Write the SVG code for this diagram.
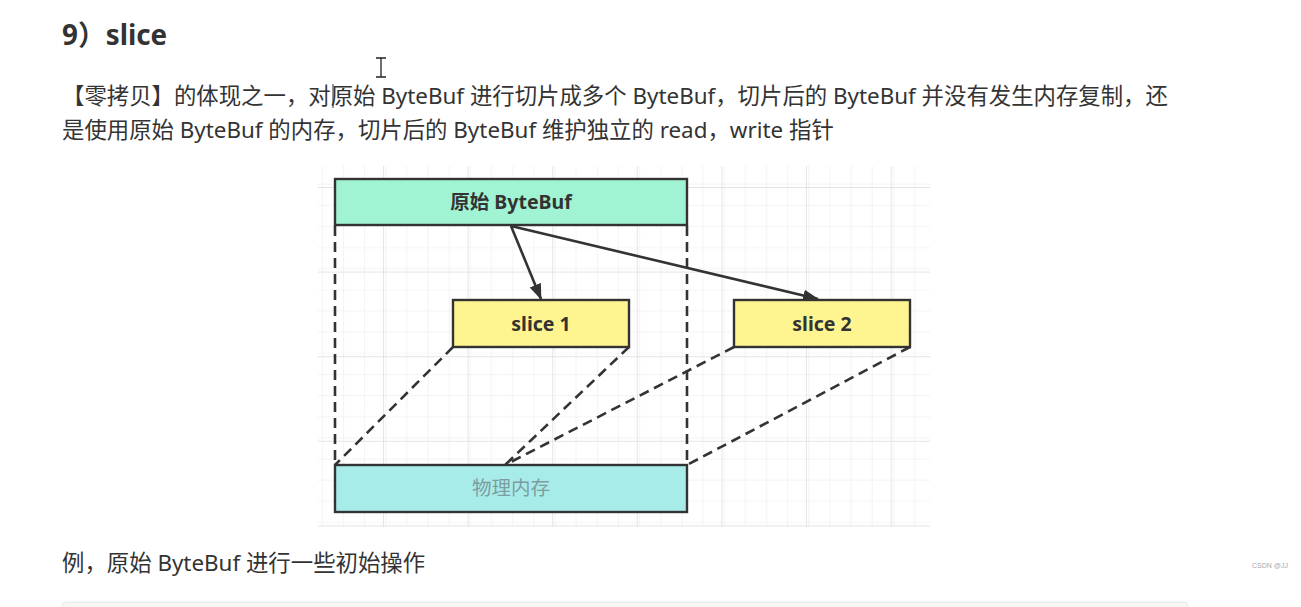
<svg xmlns="http://www.w3.org/2000/svg" width="1301" height="607" viewBox="0 0 1301 607">
<style>
.body{font-family:"Noto Sans","Noto Sans CJK SC",sans-serif;font-size:22.4px;fill:#333}
.title{font-family:"Noto Sans","Noto Sans CJK SC",sans-serif;font-size:27.8px;font-weight:bold;fill:#333}
.lbl{font-family:"Noto Sans","Noto Sans CJK SC",sans-serif;font-size:19.5px;font-weight:bold;fill:#333;text-anchor:middle}
.mem{font-family:"Noto Sans","Noto Sans CJK SC",sans-serif;font-size:19.5px;fill:#7d9c9e;text-anchor:middle}
.box{stroke:#333;stroke-width:2.4}
.dash{stroke:#333;stroke-width:2.6;stroke-dasharray:10 6;fill:none}
.arr{stroke:#333;stroke-width:2.6;fill:none;marker-end:url(#ah)}
</style>
<defs>
<marker id="ah" markerWidth="16" markerHeight="14" refX="15" refY="7" orient="auto" markerUnits="userSpaceOnUse" viewBox="0 0 16 14">
<path d="M0,1 L16,7 L0,13 Z" fill="#333"/>
</marker>
<pattern id="minor" patternUnits="userSpaceOnUse" x="383" y="187" width="21.15" height="21.15">
<path d="M0,0 V21.15 M0,0 H21.15" stroke="#e8e8e8" stroke-width="1" fill="none"/>
</pattern>
<pattern id="major" patternUnits="userSpaceOnUse" x="383" y="187" width="84.6" height="84.6">
<rect width="84.6" height="84.6" fill="url(#minor)"/>
<path d="M0,0 V84.6 M0,0 H84.6" stroke="#dcdcdc" stroke-width="1.4" fill="none"/>
</pattern>
</defs>
<rect width="1301" height="607" fill="#ffffff"/>
<text class="title" x="62" y="45">9）slice</text>
<text class="body" x="62" y="104">【零拷贝】的体现之一，对原始 ByteBuf 进行切片成多个 ByteBuf，切片后的 ByteBuf 并没有发生内存复制，还</text>
<text class="body" x="62" y="138">是使用原始 ByteBuf 的内存，切片后的 ByteBuf 维护独立的 read，write 指针</text>
<line x1="333" y1="84" x2="333" y2="108" stroke="#333" stroke-width="1"/>
<path d="M376,58 H386 M381,58 V77 M376,77 H386" stroke="#222" stroke-width="1.3" fill="none"/>
<rect x="318" y="166" width="612" height="361" fill="url(#major)"/>
<g id="connectors">
<line class="dash" x1="335" y1="226" x2="335" y2="465"/>
<line class="dash" x1="687" y1="226" x2="687" y2="465"/>
<line class="dash" x1="453" y1="347" x2="335" y2="465"/>
<line class="dash" x1="629" y1="347" x2="505" y2="465"/>
<line class="dash" x1="734" y1="347" x2="505" y2="465"/>
<line class="dash" x1="910" y1="347" x2="687" y2="465"/>
<line class="arr" x1="511" y1="226" x2="541" y2="299"/>
<line class="arr" x1="511" y1="226" x2="818" y2="299"/>
</g>
<g id="node-orig">
<rect class="box" x="335" y="179" width="352" height="46" fill="#a0f3d3"/>
<text class="lbl" x="511" y="209">原始 ByteBuf</text>
</g>
<g id="node-slice1">
<rect class="box" x="453" y="300" width="176" height="47" fill="#fff590"/>
<text class="lbl" x="541" y="331">slice 1</text>
</g>
<g id="node-slice2">
<rect class="box" x="734" y="300" width="176" height="47" fill="#fff590"/>
<text class="lbl" x="822" y="331">slice 2</text>
</g>
<g id="node-mem">
<rect class="box" x="335" y="465" width="352" height="47" fill="#a8ecea"/>
<text class="mem" x="511" y="495">物理内存</text>
</g>
<text class="body" x="62" y="571">例，原始 ByteBuf 进行一些初始操作</text>
<text x="1252" y="568" font-family="Liberation Sans, sans-serif" font-size="7" fill="#aaa">CSDN @JJ</text>
<rect x="62" y="602" width="1126" height="20" rx="4" fill="#f6f6f6" stroke="#e8e8e8"/>
</svg>
